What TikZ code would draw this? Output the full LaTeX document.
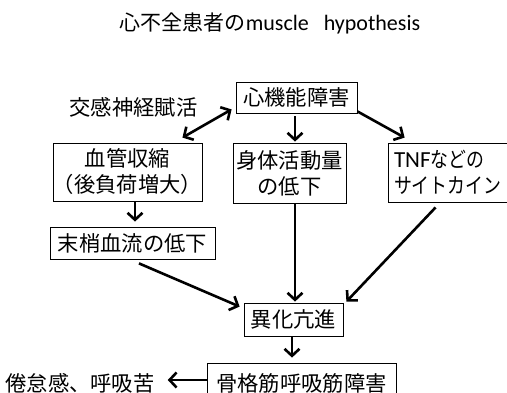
\documentclass[tikz,border=0pt]{standalone}
\usepackage{fontspec}
\setmainfont{Noto Sans CJK JP}
\newfontfamily\latinf{Carlito}
\newfontfamily\narrowcjk{Noto Sans CJK JP}[FakeStretch=0.84]
\usetikzlibrary{arrows.meta,calc}
\begin{document}
\begin{tikzpicture}[x=1pt,y=-1pt,
 box/.style={draw,line width=0.8pt,inner sep=0pt,font=\fontsize{21.3}{26}\selectfont,align=center},
 lbl/.style={inner sep=0pt,font=\fontsize{21.3}{26}\selectfont},
 arr/.style={line width=2.6pt,-{Straight Barb[length=7pt,width=15pt]}},
 darr/.style={line width=2.6pt,{Straight Barb[length=7pt,width=15pt]}-{Straight Barb[length=7pt,width=15pt]}},
]
\useasboundingbox (0,0) rectangle (507,393);
\fill[white] (0,0) rectangle (507,393);
\node[lbl,font=\fontsize{21}{24}\selectfont] (title) at (270,23) {心不全患者の{\latinf\fontsize{22}{24}\selectfont muscle\ \ \ hypothesis}};
\node[box,minimum width=121,minimum height=31] (heart) at (296.5,97.5) {心機能障害};
\node[lbl] (symp) at (133.5,107) {交感神経賦活};
\node[box,minimum width=137,minimum height=58] (vaso) at (127.5,172) {血管収縮\\（後負荷増大）};
\node[box,minimum width=113,minimum height=60] (phys) at (289.5,173) {身体活動量\\の低下};
\node[box,minimum width=124,minimum height=59,align=left,text width=112] (tnf) at (450,172.5) {{\latinf\fontsize{23}{26}\selectfont TNF}{\narrowcjk などの}\\{\narrowcjk サイトカイン}};
\node[box,minimum width=165,minimum height=32] (peri) at (132.5,243) {末梢血流の低下};
\node[box,minimum width=99,minimum height=33] (cata) at (293.5,319.5) {異化亢進};
\node[box,minimum width=189,minimum height=40] (musc) at (301.5,383) {骨格筋呼吸筋障害};
\node[lbl] (fat) at (80,383) {倦怠感、呼吸苦};
\draw[darr] ([shift={(-4,-4)}]heart.south west) -- ([shift={(-20,-5)}]vaso.north east);
\draw[arr] ([shift={(-1.5,3)}]heart.south) -- ([shift={(5.5,-1)}]phys.north);
\draw[arr] ([shift={(0,-2)}]heart.south east) -- ([shift={(17,-5)}]tnf.north west);
\draw[arr] ([shift={(7.5,1)}]vaso.south) -- ([shift={(2.5,-5)}]peri.north);
\draw[arr] ([shift={(6.5,4)}]peri.south) -- ([shift={(-4,4)}]cata.north west);
\draw[arr] ([shift={(5.5,0)}]phys.south) -- ([shift={(1.5,-1)}]cata.north);
\draw[arr] ([shift={(48,5)}]tnf.south west) -- ([shift={(3,-1)}]cata.north east);
\draw[arr] ([shift={(-1.5,1)}]cata.south) -- ([shift={(-9.5,-5)}]musc.north);
\draw[arr] ([shift={(0,-3)}]musc.west) -- ([shift={(13,-3)}]fat.east);
\end{tikzpicture}
\end{document}
